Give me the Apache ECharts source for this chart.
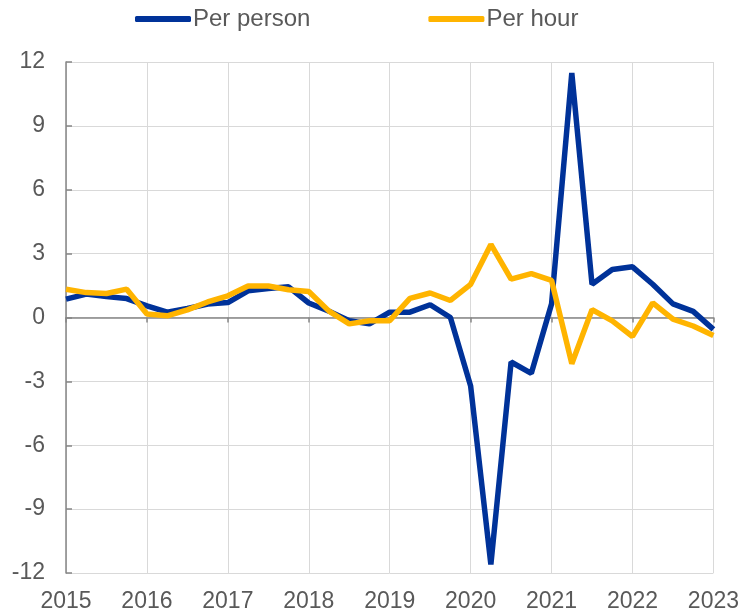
<!DOCTYPE html>
<html>
<head>
<meta charset="utf-8">
<style>
    html, body { margin: 0; padding: 0; background: #fff; }
    #main { width: 742px; height: 614px; }
</style>
<script src="https://cdn.jsdelivr.net/npm/echarts@6/dist/echarts.min.js"></script>
</head>
<body>
<div id="main"></div>
<script>
    // 季度
    var quarters = [
        '2015Q1', '2015Q2', '2015Q3', '2015Q4',
        '2016Q1', '2016Q2', '2016Q3', '2016Q4',
        '2017Q1', '2017Q2', '2017Q3', '2017Q4',
        '2018Q1', '2018Q2', '2018Q3', '2018Q4',
        '2019Q1', '2019Q2', '2019Q3', '2019Q4',
        '2020Q1', '2020Q2', '2020Q3', '2020Q4',
        '2021Q1', '2021Q2', '2021Q3', '2021Q4',
        '2022Q1', '2022Q2', '2022Q3', '2022Q4',
        '2023Q1'
    ];
    var perPerson = [
        0.86, 1.1, 0.98, 0.89,
        0.55, 0.25, 0.42, 0.63,
        0.7, 1.25, 1.36, 1.44,
        0.68, 0.3, -0.15, -0.3,
        0.25, 0.25, 0.6, 0.0,
        -3.22, -11.6, -2.09, -2.62,
        0.64, 11.48, 1.56, 2.25,
        2.38, 1.56, 0.64, 0.29,
        -0.56
    ];
    var perHour = [
        1.33, 1.17, 1.13, 1.33,
        0.16, 0.08, 0.36, 0.73,
        1.02, 1.48, 1.48, 1.3,
        1.22, 0.3, -0.3, -0.15,
        -0.15, 0.9, 1.15, 0.8,
        1.56, 3.43, 1.8, 2.06,
        1.74, -2.17, 0.37, -0.16,
        -0.89, 0.69, -0.08, -0.4,
        -0.84
    ];
    var seriesNames = ['Per person', 'Per hour'];
    var colors = ['#003299', '#ffb400'];

    var font = 'Liberation Sans, Arial, sans-serif';
    var textColor = '#595959';

    var opt = {
        animation: false,
        color: colors,
        legend: {
            left: 135,
            top: 7,
            padding: 0,
            itemGap: 118,
            itemWidth: 56,
            itemHeight: 6,
            icon: 'roundRect',
            textStyle: { color: textColor, fontSize: 24, fontFamily: font, padding: [0, 0, 0, -3] },
            data: seriesNames
        },
        grid: { left: 66, right: 28, top: 62, bottom: 41 },
        xAxis: [{
            type: 'category',
            data: quarters,
            boundaryGap: false,
            position: 'bottom',
            axisLine: { show: false, onZero: false },
            axisTick: { show: false },
            axisLabel: {
                interval: 3,
                margin: 17,
                color: textColor,
                fontSize: 23,
                fontFamily: font,
                formatter: function (v) { return v.slice(0, 4); }
            },
            splitLine: { show: true, interval: 3, lineStyle: { color: '#d9d9d9', width: 1 } }
        }, {
            type: 'category',
            data: quarters,
            boundaryGap: false,
            position: 'bottom',
            axisLine: { show: true, onZero: true, lineStyle: { color: '#868686', width: 1.5 } },
            axisTick: { show: true, interval: 3, length: 5, lineStyle: { color: '#868686', width: 1.5 } },
            axisLabel: { show: false },
            splitLine: { show: false }
        }],
        yAxis: {
            type: 'value',
            min: -12,
            max: 12,
            interval: 3,
            axisLine: { show: true, lineStyle: { color: '#868686', width: 1.5 } },
            axisTick: { show: true, inside: true, length: 6, lineStyle: { color: '#868686', width: 1.5 } },
            axisLabel: { margin: 21, color: textColor, fontSize: 23, fontFamily: font },
            splitLine: { show: true, lineStyle: { color: '#d9d9d9', width: 1 } }
        },
        series: [{
            name: seriesNames[0],
            type: 'line',
            data: perPerson,
            showSymbol: false,
            symbol: 'none',
            lineStyle: { width: 5.5, color: colors[0] },
            z: 3
        }, {
            name: seriesNames[1],
            type: 'line',
            data: perHour,
            showSymbol: false,
            symbol: 'none',
            lineStyle: { width: 5.5, color: colors[1] },
            z: 4
        }]
    };

    var myChart = echarts.init(document.getElementById('main'), null, { renderer: 'canvas' });
    myChart.setOption(opt);
</script>
</body>
</html>
